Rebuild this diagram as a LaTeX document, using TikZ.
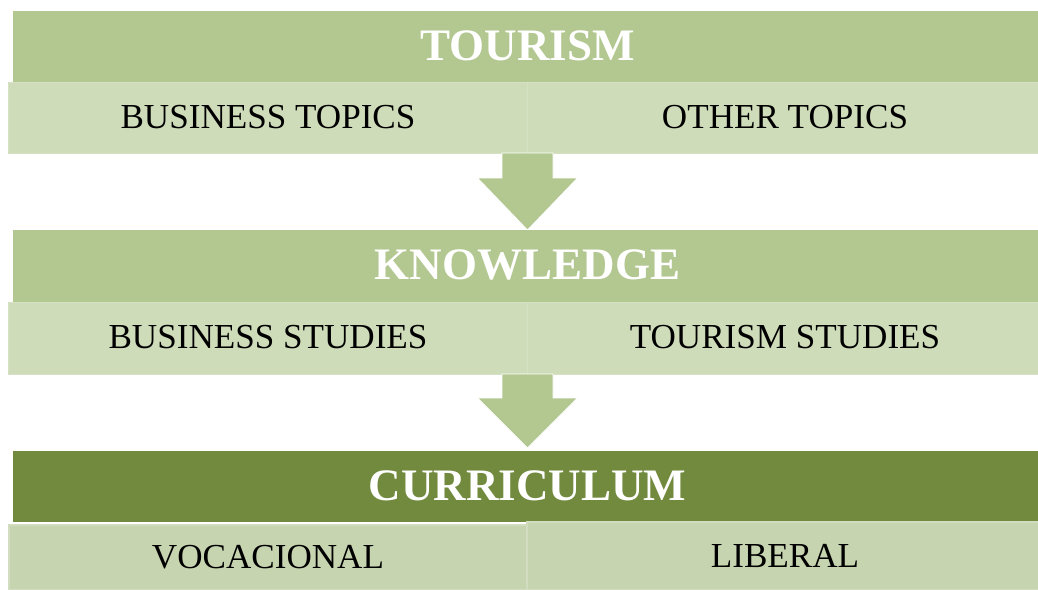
\documentclass[tikz,border=0pt]{standalone}
\usepackage{fontspec}
\setmainfont{Liberation Serif}
\definecolor{hdr}{HTML}{B3C791}
\definecolor{sub}{HTML}{CFDCB9}
\definecolor{subedge}{HTML}{D6E1C4}
\definecolor{dark}{HTML}{728A3E}
\definecolor{low}{HTML}{C7D4B0}
\definecolor{lowedge}{HTML}{D2DDC0}
\tikzset{
  hdrtext/.style={font=\fontsize{45}{45}\selectfont\bfseries, text=white},
  subtext/.style={font=\fontsize{35.1}{35.1}\selectfont, text=black},
  cell/.style={fill=sub, draw=subedge, line width=1pt},
  lowcell/.style={fill=low, draw=lowedge, line width=2pt},
  arrowfill/.style={fill=hdr, draw=white, line width=0.8pt}
}
\begin{document}
\begin{tikzpicture}[x=1pt,y=-1pt]
\useasboundingbox (0,0) rectangle (1038,589);
% Tourism
\fill[hdr] (13,11) rectangle (1038,82);
\node[hdrtext] (tourism) at (527.5,46) {TOURISM};
\draw[cell] (8,82) rectangle (527,153);
\draw[cell] (527,82) rectangle (1038,153);
\node[subtext] (bt) at (268,117.5) {BUSINESS TOPICS};
\node[subtext] (ot) at (785,117.5) {OTHER TOPICS};
% arrow 1
\filldraw[arrowfill] (502,153) -- (553,153) -- (553,178) -- (577.5,178) -- (527.5,230) -- (477.5,178) -- (502,178) -- cycle;
% Knowledge
\fill[hdr] (13,230) rectangle (1038,302);
\node[hdrtext] (know) at (527.5,265) {KNOWLEDGE};
\draw[cell] (8,302) rectangle (527,374);
\draw[cell] (527,302) rectangle (1038,374);
\node[subtext] (bs) at (268,337.5) {BUSINESS STUDIES};
\node[subtext] (ts) at (785,337.5) {TOURISM STUDIES};
% arrow 2
\filldraw[arrowfill] (502,374) -- (553,374) -- (553,398) -- (577.5,398) -- (527.5,448) -- (477.5,398) -- (502,398) -- cycle;
% Curriculum
\fill[dark] (13,451) rectangle (1038,522);
\node[hdrtext] (curr) at (527.5,486) {CURRICULUM};
\draw[lowcell] (9,525) rectangle (527,590);
\draw[lowcell] (527,522) rectangle (1039,590);
\node[subtext] (voc) at (268,557.5) {VOCACIONAL};
\node[subtext] (lib) at (785,555.5) {LIBERAL};
\end{tikzpicture}
\end{document}
